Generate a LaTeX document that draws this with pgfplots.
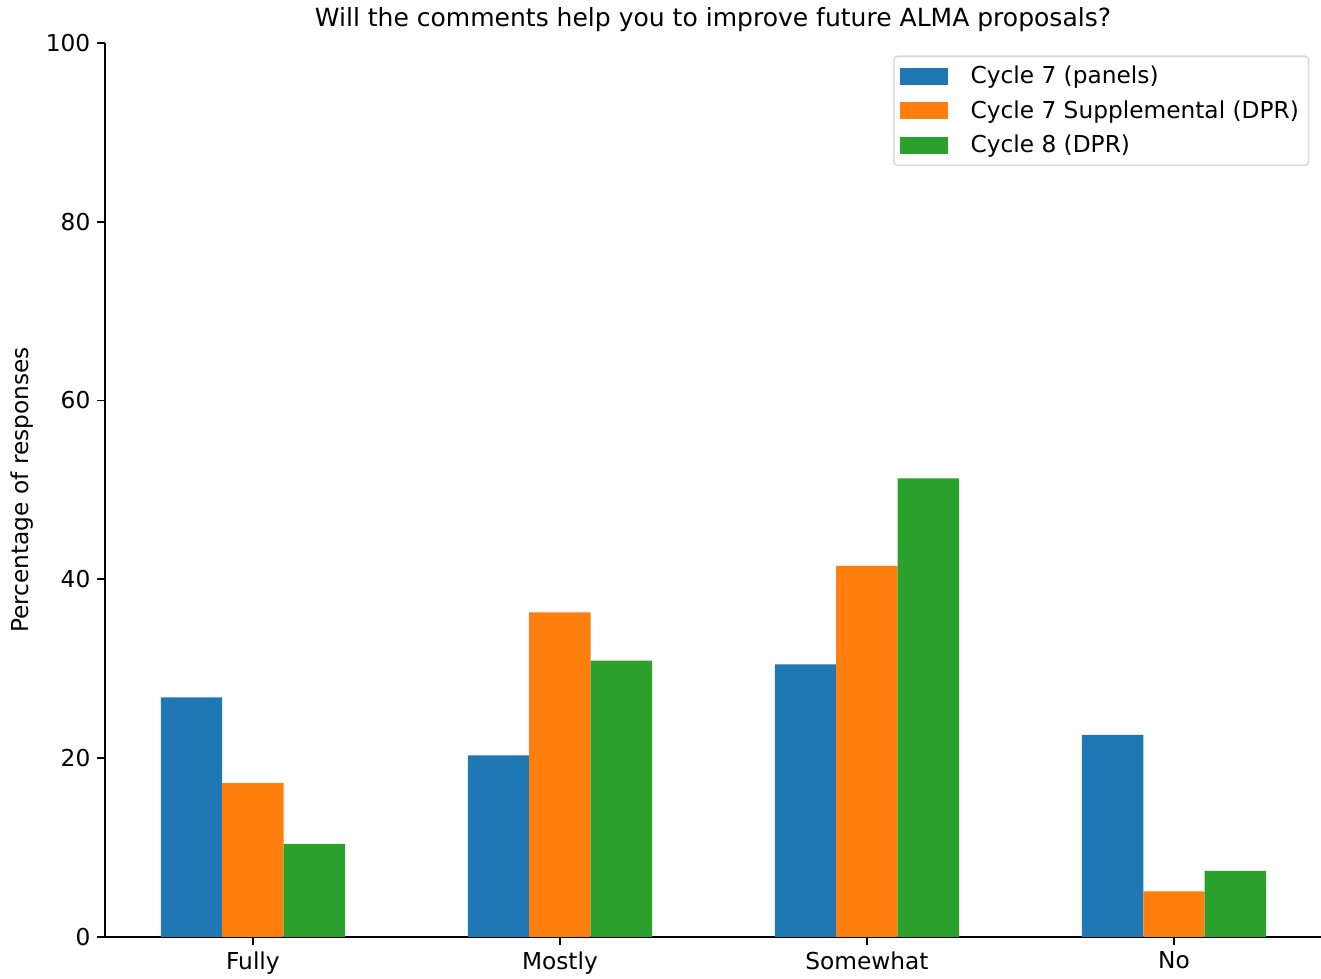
\documentclass[border=0pt]{standalone}
\usepackage{pgfplots}
\pgfplotsset{compat=1.18}
\usepackage{fontspec}
\setmainfont{DejaVu Sans}
\definecolor{c0}{HTML}{1F77B4}
\definecolor{c1}{HTML}{FF7F0E}
\definecolor{c2}{HTML}{2CA02C}
\begin{document}
\begin{tikzpicture}
\begin{axis}[
  scale only axis,
  width=627pt, height=461pt,
  xmin=-0.482, xmax=3.479, ymin=0, ymax=100,
  axis lines*=left,
  axis line style={-, line width=0.9pt},
  ybar, bar width=0.2,
  xtick={0,1,2,3},
  xticklabels={Fully,Mostly,Somewhat,No},
  ytick={0,20,40,60,80,100},
  tick align=outside,
  major tick length=4pt,
  tick style={black, line width=0.9pt},
  ticklabel style={font=\fontsize{12}{14}\selectfont},
  /pgf/number format/assume math mode=true,
  title={Will the comments help you to improve future ALMA proposals?},
  title style={font=\fontsize{12.9}{15}\selectfont, yshift=-4pt},
  ylabel={Percentage of responses},
  ylabel style={font=\fontsize{12}{14}\selectfont, yshift=-0.5pt},
  legend style={at={(1,1)}, anchor=north east, xshift=-6pt, yshift=-6.5pt,
    draw=black!15, rounded corners=2pt, line width=0.8pt,
    font=\fontsize{12}{14}\selectfont, row sep=3.2pt,
    inner xsep=3pt, inner ysep=3pt},
  legend cell align=left,
  legend image code/.code={\fill[#1, sharp corners] (0pt,-4.4pt) rectangle (24.7pt,4.4pt); \path (34.5pt,0pt);},
  every legend image post/.append style={sharp corners},
]
\addplot[fill=c0, draw=none, bar shift=-0.2] coordinates {(0,26.8) (1,20.3) (2,30.5) (3,22.6)};
\addplot[fill=c1, draw=none, bar shift=0] coordinates {(0,17.2) (1,36.3) (2,41.5) (3,5.1)};
\addplot[fill=c2, draw=none, bar shift=0.2] coordinates {(0,10.4) (1,30.9) (2,51.3) (3,7.4)};
\legend{Cycle 7 (panels),Cycle 7 Supplemental (DPR),Cycle 8 (DPR)}
\end{axis}
\pgfresetboundingbox
\path ([xshift=-54.1pt,yshift=-21.6pt]current axis.south west) rectangle ([yshift=22.1pt]current axis.north east);
\end{tikzpicture}
\end{document}
